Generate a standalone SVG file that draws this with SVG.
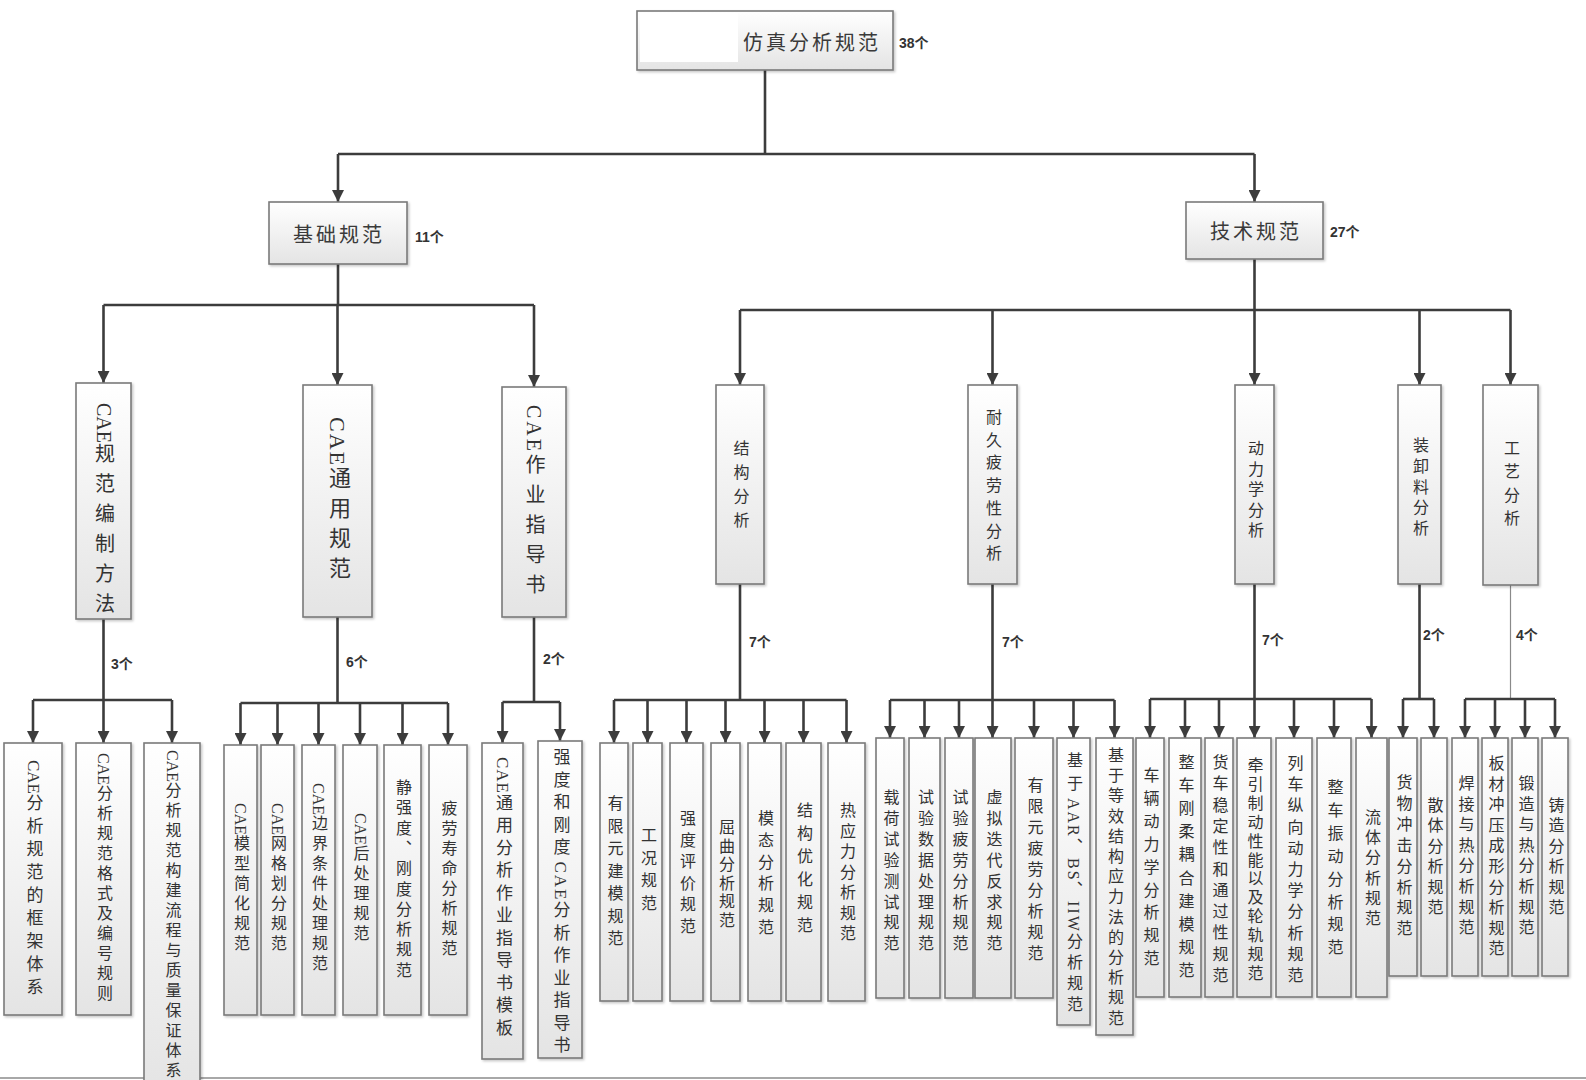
<svg xmlns="http://www.w3.org/2000/svg" width="1586" height="1080" viewBox="0 0 1586 1080">
<style>
.box{fill:url(#g);stroke:#7a7a7a;stroke-width:1.6;filter:url(#sh)}
.conn path{fill:none;stroke:#3c3c3c;stroke-width:2.6}
.conn path.a{marker-end:url(#arr)}
.conn path.thin{stroke:#8a8a8a;stroke-width:1.2}
.h{font-family:"Liberation Serif","Noto Sans CJK SC",serif;font-size:20px;letter-spacing:3px;fill:#3a3a3a;text-anchor:middle;dominant-baseline:central}
.v{font-family:"Liberation Serif","Noto Sans CJK SC",serif;writing-mode:vertical-rl;fill:#333;font-size:16px}
.n{font-family:"Liberation Sans","Noto Sans CJK SC",sans-serif;font-size:14px;font-weight:bold;fill:#333;dominant-baseline:central}
</style>
<defs>
<linearGradient id="g" x1="0" y1="0" x2="0" y2="1"><stop offset="0" stop-color="#ffffff"/><stop offset="1" stop-color="#e4e4e4"/></linearGradient>
<filter id="sh" x="-20%" y="-5%" width="140%" height="115%"><feDropShadow dx="1.5" dy="1.5" stdDeviation="1.2" flood-color="#000" flood-opacity="0.22"/></filter>
<marker id="arr" markerUnits="userSpaceOnUse" viewBox="0 0 12 12" markerWidth="12" markerHeight="12" refX="12" refY="6" orient="auto"><path d="M0,0 L12,6 L0,12 z" fill="#3c3c3c"/></marker>
</defs>
<rect width="1586" height="1080" fill="#ffffff"/>
<line x1="0" y1="1078" x2="1586" y2="1078" stroke="#a8a8a8" stroke-width="2"/>

<g id="connectors" class="conn">
<path d="M765,70 V154"/><path d="M338,154 H1254.5"/>
<path class="a" d="M338,154 V202"/><path class="a" d="M1254.5,154 V202"/>
<path d="M338,264 V305"/><path d="M103.5,305 H534"/>
<path class="a" d="M103.5,305 V383"/><path class="a" d="M337.5,305 V385"/><path class="a" d="M534,305 V387"/>
<path d="M1254.5,259 V310"/><path d="M740,310 H1510.5"/>
<path class="a" d="M740,310 V385"/><path class="a" d="M992.5,310 V385"/><path class="a" d="M1254.5,310 V385"/><path class="a" d="M1419.5,310 V385"/><path class="a" d="M1510.5,310 V385"/>
<path d="M103.5,619 V700"/><path d="M33,700 H172"/>
<path class="a" d="M33,700 V743"/><path class="a" d="M103.5,700 V743"/><path class="a" d="M172,700 V743"/>
<path d="M337.5,617 V703"/><path d="M240.5,703 H448"/>
<path class="a" d="M240.5,703 V745"/><path class="a" d="M277.5,703 V745"/><path class="a" d="M318.5,703 V745"/><path class="a" d="M360,703 V745"/><path class="a" d="M402.5,703 V745"/><path class="a" d="M448,703 V745"/>
<path d="M534,617 V702"/><path d="M502.5,702 H560"/>
<path class="a" d="M502.5,702 V743"/><path class="a" d="M560,702 V741"/>
<path d="M740,584 V700"/><path d="M614,700 H846.5"/>
<path class="a" d="M614,700 V743"/><path class="a" d="M647.5,700 V743"/><path class="a" d="M686.5,700 V743"/><path class="a" d="M725.5,700 V743"/><path class="a" d="M764.5,700 V743"/><path class="a" d="M803.5,700 V743"/><path class="a" d="M846.5,700 V743"/>
<path d="M992.5,584 V700"/><path d="M890,700 H1114.5"/>
<path class="a" d="M890,700 V738"/><path class="a" d="M924.5,700 V738"/><path class="a" d="M959,700 V738"/><path class="a" d="M992.5,700 V738"/><path class="a" d="M1034,700 V738"/><path class="a" d="M1073.5,700 V738"/><path class="a" d="M1114.5,700 V738"/>
<path d="M1254.5,584 V699"/><path d="M1150,699 H1371.5"/>
<path class="a" d="M1150,699 V738"/><path class="a" d="M1185,699 V738"/><path class="a" d="M1219,699 V738"/><path class="a" d="M1254.5,699 V738"/><path class="a" d="M1294,699 V738"/><path class="a" d="M1334,699 V738"/><path class="a" d="M1371.5,699 V738"/>
<path d="M1419.5,584 V699"/><path d="M1403,699 H1434"/>
<path class="a" d="M1403,699 V738"/><path class="a" d="M1434,699 V738"/>
<path class="thin" d="M1510.5,585 V699"/><path d="M1465,699 H1555"/>
<path class="a" d="M1465,699 V738"/><path class="a" d="M1495,699 V738"/><path class="a" d="M1525,699 V738"/><path class="a" d="M1555,699 V738"/>
</g>

<g id="labels">
<text class="n" x="899" y="43">38个</text>
<text class="n" x="415" y="237">11个</text>
<text class="n" x="1330" y="232">27个</text>
<text class="n" x="111" y="664">3个</text>
<text class="n" x="346" y="662">6个</text>
<text class="n" x="543" y="659">2个</text>
<text class="n" x="749" y="642">7个</text>
<text class="n" x="1002" y="642">7个</text>
<text class="n" x="1262" y="640">7个</text>
<text class="n" x="1423" y="635">2个</text>
<text class="n" x="1516" y="635">4个</text>
</g>

<g id="root"><rect class="box" x="637" y="11" width="256" height="59"/><rect x="640" y="13" width="98" height="49" fill="#ffffff"/><text class="h" x="812" y="43">仿真分析规范</text></g>
<g id="jichu"><rect class="box" x="269" y="202" width="138" height="62"/><text class="h" x="339" y="235">基础规范</text></g>
<g id="jishu"><rect class="box" x="1186" y="202" width="137" height="57"/><text class="h" x="1256" y="232">技术规范</text></g>

<g id="p1"><rect class="box" x="76" y="383" width="55" height="236"/><text class="v" x="103.5" y="403" style="font-size:20px">CAE<tspan style="letter-spacing:10px">规范编制方法</tspan></text></g>
<g id="p2"><rect class="box" x="303" y="385" width="69" height="232"/><text class="v" x="337.5" y="417" style="font-size:22px"><tspan style="letter-spacing:2px">CAE</tspan><tspan style="letter-spacing:8px">通用规范</tspan></text></g>
<g id="p3"><rect class="box" x="502" y="387" width="64" height="230"/><text class="v" x="534" y="405" style="font-size:20px"><tspan style="letter-spacing:3px">CAE</tspan><tspan style="letter-spacing:10px">作业指导书</tspan></text></g>

<g id="r1"><rect class="box" x="716" y="385" width="48" height="199"/><text class="v" x="740" y="440" style="letter-spacing:8px">结构分析</text></g>
<g id="r2"><rect class="box" x="968" y="385" width="49" height="199"/><text class="v" x="992.5" y="409" style="letter-spacing:6.7px">耐久疲劳性分析</text></g>
<g id="r3"><rect class="box" x="1235" y="385" width="39" height="199"/><text class="v" x="1254.5" y="440" style="letter-spacing:4.5px">动力学分析</text></g>
<g id="r4"><rect class="box" x="1398" y="385" width="43" height="199"/><text class="v" x="1419.5" y="437" style="letter-spacing:4.8px">装卸料分析</text></g>
<g id="r5"><rect class="box" x="1483" y="385" width="55" height="200"/><text class="v" x="1510.5" y="440" style="letter-spacing:7.3px">工艺分析</text></g>

<g id="l1"><rect class="box" x="4" y="743" width="58" height="272"/><text class="v" x="33" y="760" style="font-size:17px">CAE<tspan style="letter-spacing:6px">分析规范的框架体系</tspan></text></g>
<g id="l2"><rect class="box" x="76" y="743" width="55" height="272"/><text class="v" x="103.5" y="753">CAE<tspan style="letter-spacing:4px">分析规范格式及编号规则</tspan></text></g>
<g id="l3"><rect class="box" x="144" y="743" width="56" height="350"/><text class="v" x="172" y="750">CAE<tspan style="letter-spacing:4px">分析规范构建流程与质量保证体系</tspan></text></g>
<g id="l4"><rect class="box" x="224" y="745" width="33" height="270"/><text class="v" x="240.5" y="803">CAE<tspan style="letter-spacing:4px">模型简化规范</tspan></text></g>
<g id="l5"><rect class="box" x="261" y="745" width="33" height="270"/><text class="v" x="277.5" y="803">CAE<tspan style="letter-spacing:4px">网格划分规范</tspan></text></g>
<g id="l6"><rect class="box" x="302" y="745" width="33" height="270"/><text class="v" x="318.5" y="783">CAE<tspan style="letter-spacing:4px">边界条件处理规范</tspan></text></g>
<g id="l7"><rect class="box" x="343" y="745" width="34" height="270"/><text class="v" x="360" y="813">CAE<tspan style="letter-spacing:4px">后处理规范</tspan></text></g>
<g id="l8"><rect class="box" x="384" y="745" width="37" height="270"/><text class="v" x="402.5" y="779" style="letter-spacing:4.3px">静强度、刚度分析规范</text></g>
<g id="l9"><rect class="box" x="429" y="745" width="38" height="270"/><text class="v" x="448" y="800" style="letter-spacing:4px">疲劳寿命分析规范</text></g>
<g id="l10"><rect class="box" x="482" y="743" width="41" height="316"/><text class="v" x="502.5" y="757" style="font-size:17px"><tspan style="letter-spacing:1px">CAE</tspan><tspan style="letter-spacing:5.5px">通用分析作业指导书模板</tspan></text></g>
<g id="l11"><rect class="box" x="538" y="741" width="44" height="317"/><text class="v" x="560" y="748.5" style="font-size:17px"><tspan style="letter-spacing:5.5px">强度和刚度</tspan><tspan style="letter-spacing:2px">CAE</tspan><tspan style="letter-spacing:5.5px">分析作业指导书</tspan></text></g>
<g id="l12"><rect class="box" x="600" y="743" width="28" height="258"/><text class="v" x="614" y="795" style="letter-spacing:6.5px">有限元建模规范</text></g>
<g id="l13"><rect class="box" x="633" y="743" width="29" height="258"/><text class="v" x="647.5" y="827" style="letter-spacing:6.7px">工况规范</text></g>
<g id="l14"><rect class="box" x="670" y="743" width="33" height="258"/><text class="v" x="686.5" y="810" style="letter-spacing:5.5px">强度评价规范</text></g>
<g id="l15"><rect class="box" x="711" y="743" width="29" height="258"/><text class="v" x="725.5" y="819" style="letter-spacing:2.6px">屈曲分析规范</text></g>
<g id="l16"><rect class="box" x="748" y="743" width="33" height="258"/><text class="v" x="764.5" y="810" style="letter-spacing:5.8px">模态分析规范</text></g>
<g id="l17"><rect class="box" x="786" y="743" width="35" height="258"/><text class="v" x="803.5" y="802" style="letter-spacing:7px">结构优化规范</text></g>
<g id="l18"><rect class="box" x="828" y="743" width="37" height="258"/><text class="v" x="846.5" y="802" style="letter-spacing:4.5px">热应力分析规范</text></g>
<g id="l19"><rect class="box" x="876" y="738" width="28" height="260"/><text class="v" x="890" y="789" style="letter-spacing:4.9px">载荷试验测试规范</text></g>
<g id="l20"><rect class="box" x="909" y="738" width="31" height="260"/><text class="v" x="924.5" y="789" style="letter-spacing:4.9px">试验数据处理规范</text></g>
<g id="l21"><rect class="box" x="945" y="738" width="28" height="260"/><text class="v" x="959" y="789" style="letter-spacing:4.9px">试验疲劳分析规范</text></g>
<g id="l22"><rect class="box" x="975" y="738" width="36" height="260"/><text class="v" x="993" y="789" style="letter-spacing:4.9px">虚拟迭代反求规范</text></g>
<g id="l23"><rect class="box" x="1015" y="738" width="38" height="260"/><text class="v" x="1034" y="777" style="letter-spacing:5px">有限元疲劳分析规范</text></g>
<g id="l24"><rect class="box" x="1057" y="738" width="33" height="287"/><text class="v" x="1073.5" y="752"><tspan style="letter-spacing:7px">基于</tspan><tspan style="letter-spacing:2px">AAR</tspan><tspan style="letter-spacing:4px">、</tspan><tspan style="letter-spacing:2px">BS</tspan><tspan style="letter-spacing:4px">、</tspan><tspan style="letter-spacing:2px">IIW</tspan><tspan style="letter-spacing:5px">分析规范</tspan></text></g>
<g id="l25"><rect class="box" x="1096" y="738" width="37" height="297"/><text class="v" x="1114.5" y="747" style="letter-spacing:4.2px">基于等效结构应力法的分析规范</text></g>
<g id="l26"><rect class="box" x="1136" y="738" width="28" height="259"/><text class="v" x="1150" y="767" style="letter-spacing:6.9px">车辆动力学分析规范</text></g>
<g id="l27"><rect class="box" x="1169" y="738" width="32" height="259"/><text class="v" x="1185" y="754" style="letter-spacing:7.1px">整车刚柔耦合建模规范</text></g>
<g id="l28"><rect class="box" x="1205" y="738" width="28" height="259"/><text class="v" x="1219" y="754" style="letter-spacing:5.3px">货车稳定性和通过性规范</text></g>
<g id="l29"><rect class="box" x="1237" y="738" width="34" height="259"/><text class="v" x="1254" y="757" style="letter-spacing:2.9px">牵引制动性能以及轮轨规范</text></g>
<g id="l30"><rect class="box" x="1276" y="738" width="36" height="259"/><text class="v" x="1294" y="755" style="letter-spacing:5.2px">列车纵向动力学分析规范</text></g>
<g id="l31"><rect class="box" x="1317" y="738" width="34" height="259"/><text class="v" x="1334" y="779" style="letter-spacing:6.9px">整车振动分析规范</text></g>
<g id="l32"><rect class="box" x="1356" y="738" width="31" height="259"/><text class="v" x="1371.5" y="809" style="letter-spacing:4.2px">流体分析规范</text></g>
<g id="l33"><rect class="box" x="1389" y="738" width="28" height="238"/><text class="v" x="1403" y="774" style="letter-spacing:4.9px">货物冲击分析规范</text></g>
<g id="l34"><rect class="box" x="1421" y="738" width="26" height="238"/><text class="v" x="1434" y="797" style="letter-spacing:4.4px">散体分析规范</text></g>
<g id="l35"><rect class="box" x="1452" y="738" width="26" height="238"/><text class="v" x="1465" y="775" style="letter-spacing:4.6px">焊接与热分析规范</text></g>
<g id="l36"><rect class="box" x="1482" y="738" width="26" height="238"/><text class="v" x="1495" y="755" style="letter-spacing:4.6px">板材冲压成形分析规范</text></g>
<g id="l37"><rect class="box" x="1512" y="738" width="26" height="238"/><text class="v" x="1525" y="775" style="letter-spacing:4.6px">锻造与热分析规范</text></g>
<g id="l38"><rect class="box" x="1542" y="738" width="26" height="238"/><text class="v" x="1555" y="797" style="letter-spacing:4.4px">铸造分析规范</text></g>
</svg>
